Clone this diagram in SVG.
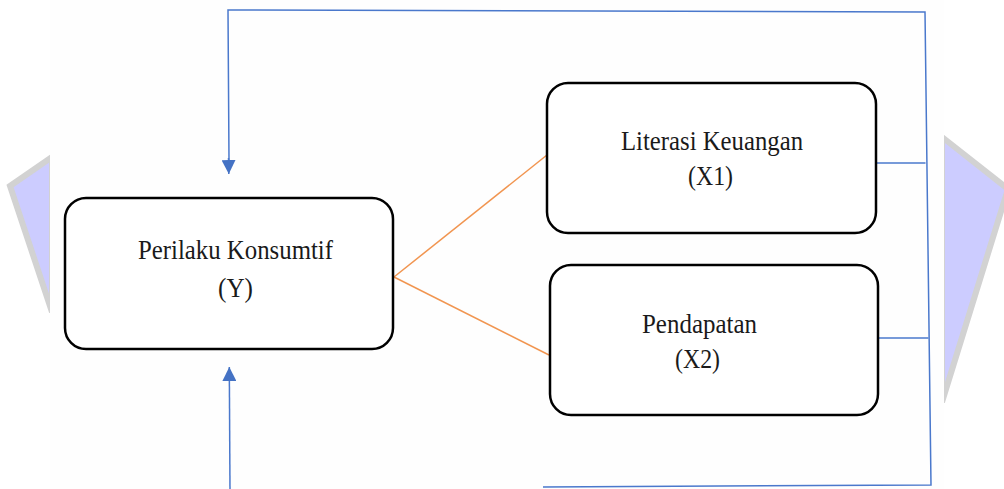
<svg xmlns="http://www.w3.org/2000/svg" width="1004" height="489" viewBox="0 0 1004 489">
<style>
.box{fill:#ffffff;stroke:#000000;stroke-width:2.5}
.lbl{font-family:"Liberation Serif","Times New Roman",serif;font-size:27.5px;fill:#1a1a1a;text-anchor:middle}
.blue{fill:none;stroke:#4a78cc;stroke-width:1.5}
.orange{fill:none;stroke:#f19550;stroke-width:1.5}
.wm{fill:#ccccff;stroke:#d2d2d2;stroke-width:6;stroke-linejoin:miter}
</style>
<defs>
<marker id="arr" viewBox="0 0 10 10" refX="10" refY="5" markerWidth="14" markerHeight="14" markerUnits="userSpaceOnUse" orient="auto">
<path d="M0,0 L10,5 L0,10 Z" fill="#4472c4"/>
</marker>
</defs>
<rect x="0" y="0" width="1004" height="489" fill="#ffffff"/>
<g id="watermark">
<polygon class="wm" points="52,157 10,186 52,312"/>
<polygon class="wm" points="942,137 1008,189 942,402"/>
</g>
<rect x="50" y="0" width="894" height="489" fill="#fefefe"/>
<g id="connectors">
<polyline class="blue" points="229,160 228,10 925,12 931,485 543,487"/>
<line class="blue" x1="228.5" y1="158" x2="228.8" y2="174" marker-end="url(#arr)"/>
<line class="blue" x1="230" y1="489" x2="229.3" y2="367" marker-end="url(#arr)"/>
<line class="blue" x1="876" y1="163" x2="925.5" y2="163"/>
<line class="blue" x1="878" y1="338" x2="928.5" y2="338"/>
<line class="orange" x1="394" y1="277" x2="547" y2="155"/>
<line class="orange" x1="394" y1="277" x2="549" y2="355"/>
</g>
<g id="node-y">
<rect class="box" x="65" y="198" width="328" height="151" rx="21" ry="21"/>
<text class="lbl" x="235.5" y="259" textLength="195" lengthAdjust="spacingAndGlyphs">Perilaku Konsumtif</text>
<text class="lbl" x="235.5" y="297" textLength="35" lengthAdjust="spacingAndGlyphs">(Y)</text>
</g>
<g id="node-x1">
<rect class="box" x="547" y="83" width="329" height="150" rx="21" ry="21"/>
<text class="lbl" x="712" y="150" textLength="182" lengthAdjust="spacingAndGlyphs">Literasi Keuangan</text>
<text class="lbl" x="710.5" y="185" textLength="45" lengthAdjust="spacingAndGlyphs">(X1)</text>
</g>
<g id="node-x2">
<rect class="box" x="550" y="265" width="328" height="150" rx="21" ry="21"/>
<text class="lbl" x="699.5" y="333" textLength="115" lengthAdjust="spacingAndGlyphs">Pendapatan</text>
<text class="lbl" x="697.5" y="368" textLength="45" lengthAdjust="spacingAndGlyphs">(X2)</text>
</g>
</svg>
